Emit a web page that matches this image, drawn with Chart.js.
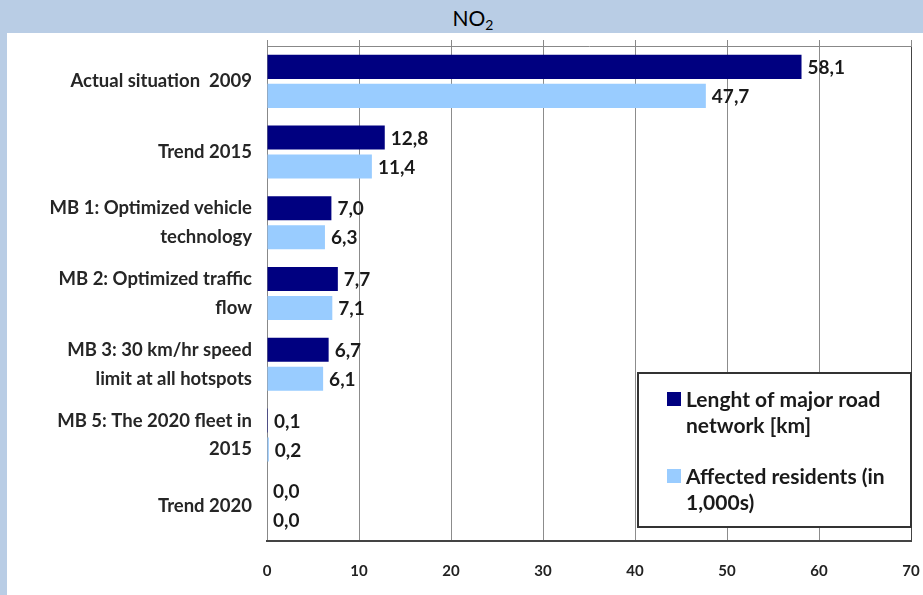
<!DOCTYPE html>
<html><head><meta charset="utf-8">
<script src="https://cdn.jsdelivr.net/npm/chart.js@4/dist/chart.umd.min.js"></script>
<style>
html,body{margin:0;padding:0;background:#b9cde5;width:923px;height:595px;overflow:hidden;}
#title{position:absolute;left:7px;top:0;width:932px;height:33px;line-height:35px;text-align:center;font-family:Lato,'Open Sans',sans-serif;font-size:21px;color:#000;}
#title sub{font-size:14px;vertical-align:baseline;position:relative;top:4px;}
#panel{position:absolute;left:7px;top:33px;width:916px;height:562px;background:#fff;}
canvas{display:block;}
</style></head><body>
<div id="title">NO<sub>2</sub></div>
<div id="panel"><canvas id="c" width="916" height="562"></canvas></div>
<script>
const categories = [
  'Actual situation  2009',
  'Trend 2015',
  ['MB 1: Optimized vehicle', 'technology'],
  ['MB 2: Optimized traffic', 'flow'],
  ['MB 3: 30 km/hr speed', 'limit at all hotspots'],
  ['MB 5: The 2020 fleet in', '2015'],
  'Trend 2020'
];
const roadLength = [58.1, 12.8, 7.0, 7.7, 6.7, 0.1, 0.0];
const residents = [47.7, 11.4, 6.3, 7.1, 6.1, 0.2, 0.0];
const seriesNames = [['Lenght of major road', 'network [km]'], ['Affected residents (in', '1,000s)']];
const xTicks = [0, 10, 20, 30, 40, 50, 60, 70];

const colors = ['#000080', '#99ccff'];
const FONT = 'Lato, "Open Sans", sans-serif';
const fmt = v => v.toFixed(1).replace('.', ',');

const valueLabels = {
  id: 'valueLabels',
  afterDatasetsDraw(chart) {
    const ctx = chart.ctx;
    ctx.save();
    ctx.font = 'bold 19px ' + FONT;
    ctx.fillStyle = '#1a1a1a';
    ctx.textBaseline = 'middle';
    ctx.textAlign = 'left';
    chart.data.datasets.forEach((ds, i) => {
      chart.getDatasetMeta(i).data.forEach((bar, j) => {
        ctx.fillText(fmt(ds.data[j]), bar.x + 6, bar.y + 1);
      });
    });
    ctx.restore();
  }
};

const boxLegend = {
  id: 'boxLegend',
  afterDraw(chart) {
    const ctx = chart.ctx, ca = chart.chartArea;
    const w = 273, h = 154;
    const left = ca.right - w, top = ca.bottom - 168;
    ctx.save();
    ctx.fillStyle = '#fff';
    ctx.fillRect(left, top, w, h);
    ctx.strokeStyle = '#333';
    ctx.lineWidth = 2;
    ctx.strokeRect(left, top, w, h);
    ctx.font = 'bold 21px ' + FONT;
    ctx.textBaseline = 'middle';
    const rows = [[26, 52], [103, 129]];
    seriesNames.forEach((lines, i) => {
      ctx.fillStyle = colors[i];
      ctx.fillRect(left + 29, top + rows[i][0] - 7, 14, 14);
      ctx.fillStyle = '#1a1a1a';
      lines.forEach((t, k) => ctx.fillText(t, left + 48, top + rows[i][k] + 1));
    });
    ctx.restore();
  }
};

new Chart(document.getElementById('c'), {
  type: 'bar',
  data: {
    labels: categories,
    datasets: [
      { label: seriesNames[0].join(' '), data: roadLength, backgroundColor: colors[0], categoryPercentage: 0.82, barPercentage: 0.83 },
      { label: seriesNames[1].join(' '), data: residents, backgroundColor: colors[1], categoryPercentage: 0.82, barPercentage: 0.83 }
    ]
  },
  options: {
    indexAxis: 'y',
    responsive: false,
    animation: false,
    layout: { padding: { left: 10, right: 12, top: 7, bottom: 8 } },
    plugins: { legend: { display: false }, tooltip: { enabled: false }, title: { display: false } },
    scales: {
      y: {
        type: 'category',
        position: 'left',
        afterFit: s => { s.width = 250; s.paddingTop = 0; s.paddingBottom = 0; },
        grid: { display: false },
        border: { display: true, color: '#888', width: 1 },
        ticks: { padding: 7, color: '#262626', font: { family: FONT, size: 18.5, weight: 'bold', lineHeight: 1.55 } }
      },
      x: {
        position: 'bottom',
        min: 0, max: 70,
        afterBuildTicks: s => { s.ticks = xTicks.map(v => ({ value: v })); },
        afterFit: s => { s.height = 46; s.paddingLeft = 0; s.paddingRight = 0; },
        grid: { color: c => (c.tick && c.tick.value === 70 ? '#444' : '#8c8c8c'), drawTicks: false },
        border: { display: true, color: '#444', width: 2 },
        ticks: { padding: 21, color: '#222', font: { family: FONT, size: 15, weight: 'bold' } }
      },
      x2: {
        position: 'top',
        min: 0, max: 70,
        afterBuildTicks: s => { s.ticks = xTicks.map(v => ({ value: v })); },
        afterFit: s => { s.height = 6; s.paddingLeft = 0; s.paddingRight = 0; },
        grid: { drawOnChartArea: false, tickLength: 6, color: '#888' },
        border: { display: true, color: '#888', width: 1 },
        ticks: { display: false }
      }
    }
  },
  plugins: [valueLabels, boxLegend]
});
</script>
</body></html>
